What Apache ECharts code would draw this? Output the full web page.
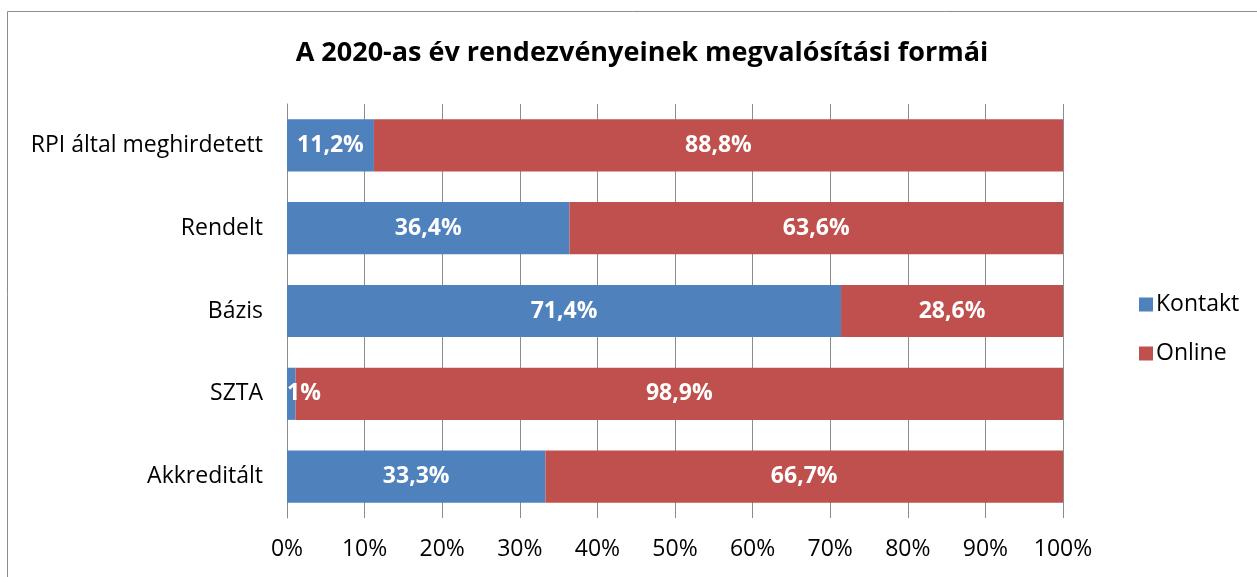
<!DOCTYPE html>
<html><head><meta charset="utf-8">
<script src="https://cdn.jsdelivr.net/npm/echarts@6/dist/echarts.min.js"></script>
<style>html,body{margin:0;padding:0;background:#fff}#c{width:1257px;height:577px}</style>
</head><body><div id="c"></div>
<script>
const categories = ['Akkreditált', 'SZTA', 'Bázis', 'Rendelt', 'RPI által meghirdetett'];
const kontakt = [33.3, 1.1, 71.4, 36.4, 11.2];
const online = [66.7, 98.9, 28.6, 63.6, 88.8];
const tickLabels = ['0%','10%','20%','30%','40%','50%','60%','70%','80%','90%','100%'];
const FONT = '"Open Sans", "Noto Sans", sans-serif';
const fmt = v => (Math.round(v*10)/10).toString().replace('.', ',') + '%';

const kontaktData = kontakt.map(v => v < 5
  ? {value: v, label: {position: 'insideLeft', distance: 0, formatter: '1%'}}
  : v);

const chart = echarts.init(document.getElementById('c'));
chart.setOption({
  animation: false,
  graphic: [{type:'rect', shape:{x:7.5,y:11.5,width:1260,height:580}, style:{fill:'none', stroke:'#8c8c8c', lineWidth:1}, silent:true}],
  title: {text:'A 2020-as év rendezvényeinek megvalósítási formái', left:637, top:35, textAlign:'center',
    textStyle:{fontFamily:FONT, fontSize:27, fontWeight:'bold', color:'#000'}},
  legend: {orient:'vertical', left:1134, top:288, itemGap:26, itemWidth:14, itemHeight:14, icon:'rect',
    textStyle:{fontFamily:FONT, fontSize:23, color:'#000', padding:[0,0,0,-2]},
    data:['Kontakt','Online']},
  grid: {left:287, right:194, top:104, bottom:59, containLabel:false},
  xAxis: {type:'value', min:0, max:100, interval:10,
    axisLabel:{fontFamily:FONT, fontSize:23, color:'#000', margin:20, formatter:(v)=>tickLabels[Math.round(v/10)]},
    splitLine:{show:true, lineStyle:{color:'#8c8c8c', width:1}},
    axisLine:{show:false}, axisTick:{show:false}},
  yAxis: {type:'category', data:categories,
    axisLabel:{fontFamily:FONT, fontSize:23, color:'#000', margin:24},
    axisLine:{show:true, lineStyle:{color:'#8c8c8c'}}, axisTick:{show:false}},
  series: [
    {name:'Kontakt', type:'bar', stack:'s', data:kontaktData, barCategoryGap:'37%', itemStyle:{color:'#4F81BD'},
      label:{show:true, position:'inside', fontFamily:FONT, fontSize:23, fontWeight:'bold', color:'#fff',
        formatter:(p)=>fmt(p.value)}},
    {name:'Online', type:'bar', stack:'s', data:online, itemStyle:{color:'#C0504D'},
      label:{show:true, position:'inside', fontFamily:FONT, fontSize:23, fontWeight:'bold', color:'#fff',
        formatter:(p)=>fmt(p.value)}}
  ]
});
</script></body></html>
